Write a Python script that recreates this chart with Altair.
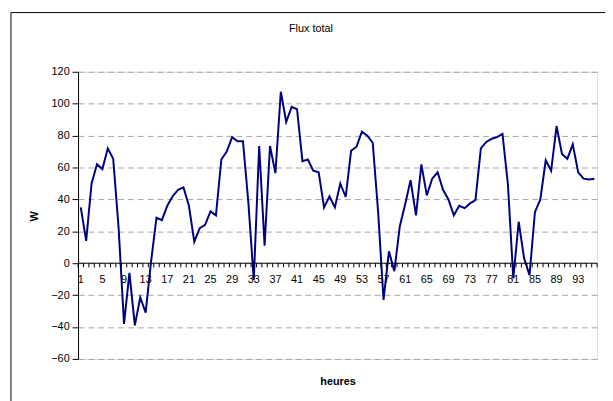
import altair as alt
import pandas as pd

hours = list(range(1, 97))
flux = [35, 14, 50, 62, 59, 72, 65.5, 22, -38, -6,
        -39, -21.5, -31, 1, 28.5, 27, 36, 42, 46, 47.5,
        36, 13.5, 22, 24, 32.5, 30, 65, 70, 79, 76.5,
        76.5, 38, -10.5, 73.5, 11, 73.5, 56.5, 107.5, 88.5, 98,
        96.5, 64, 65, 58, 57, 35, 42, 35, 50, 41.5,
        70.5, 73, 82.5, 80, 75.5, 32, -23, 7.5, -5, 23,
        37, 52, 30, 62, 42.5, 53, 57, 46, 40, 30,
        36, 34.5, 37.5, 39.5, 72, 76, 78, 79, 81, 49.5,
        -9.5, 26, 3, -7.5, 32, 40, 64.5, 58, 86, 68.5,
        65.5, 74.5, 57, 53, 52.5, 53]
x_labels = list(range(1, 94, 4))
x_bounds = [i + 0.5 for i in range(0, 97)]
y_ticks = list(range(-60, 121, 20))

FONT = "Liberation Sans"

df = pd.DataFrame({"heure": hours, "flux": flux})
xs = alt.Scale(domain=[0.5, 96.5], nice=False, zero=False)
ys = alt.Scale(domain=[-60, 120], nice=False, zero=False)

xaxis = alt.Axis(labels=False, ticks=False, domain=False, grid=False,
                 title="heures", titleFont=FONT, titleFontSize=11,
                 titleFontWeight="bold", titleColor="black", titlePadding=17)
yaxis = alt.Axis(values=y_ticks, labelOverlap=False,
                 grid=True, gridColor="#a6a6a6", gridDash=[6, 4], gridWidth=1,
                 domainColor="black", tickColor="black", tickSize=6,
                 labelFont=FONT, labelFontSize=11, labelColor="black",
                 labelPadding=3,
                 title="W", titleFont=FONT, titleFontSize=11,
                 titleFontWeight="bold", titleColor="black",
                 titleAngle=270, titleX=-44, titleY=146,
                 titleAlign="center", titleBaseline="middle")

line = alt.Chart(df).mark_line(color="#000080", strokeWidth=2).encode(
    x=alt.X("heure:Q", scale=xs, axis=xaxis),
    y=alt.Y("flux:Q", scale=ys, axis=yaxis),
)

zero = alt.Chart(alt.Data(values=[{}])).mark_rule(color="black", strokeWidth=1).encode(
    x=alt.datum(0.5, scale=xs, axis=xaxis), x2=alt.datum(96.5),
    y=alt.datum(0, scale=ys, axis=yaxis)
)

ticks_df = pd.DataFrame({"b": x_bounds})
ticks = alt.Chart(ticks_df).mark_rule(color="black", strokeWidth=1).encode(
    x=alt.X("b:Q", scale=xs, axis=xaxis), y=alt.datum(0, scale=ys, axis=yaxis),
    y2=alt.datum(-2.6)
)

lab_df = pd.DataFrame({"t": x_labels})
labels = alt.Chart(lab_df).mark_text(baseline="top", dy=11, font=FONT,
                                      fontSize=11, color="black").encode(
    x=alt.X("t:Q", scale=xs, axis=xaxis), y=alt.datum(0, scale=ys, axis=yaxis),
    text="t:Q"
)

frame_left = alt.Chart(alt.Data(values=[{}])).mark_rule(color="black", strokeWidth=1).encode(
    x=alt.value(-68), y=alt.value(-60), y2=alt.value(340)
)
frame_top = alt.Chart(alt.Data(values=[{}])).mark_rule(color="black", strokeWidth=1).encode(
    x=alt.value(-68), x2=alt.value(540), y=alt.value(-60)
)

chart = alt.layer(line, zero, ticks, labels, frame_left, frame_top).properties(
    width=526, height=291,
    title=alt.TitleParams("Flux total", font=FONT, fontSize=11, fontWeight="normal",
                          color="black", dx=-27, offset=-22),
    padding={"left": 71, "top": 62, "right": 8, "bottom": 40},
    autosize=alt.AutoSizeParams(type="none"),
).configure_view(stroke="#8c8c8c", strokeWidth=1).configure(background="white")

chart.save("out.html", embed_options={"renderer": "svg", "actions": False})
